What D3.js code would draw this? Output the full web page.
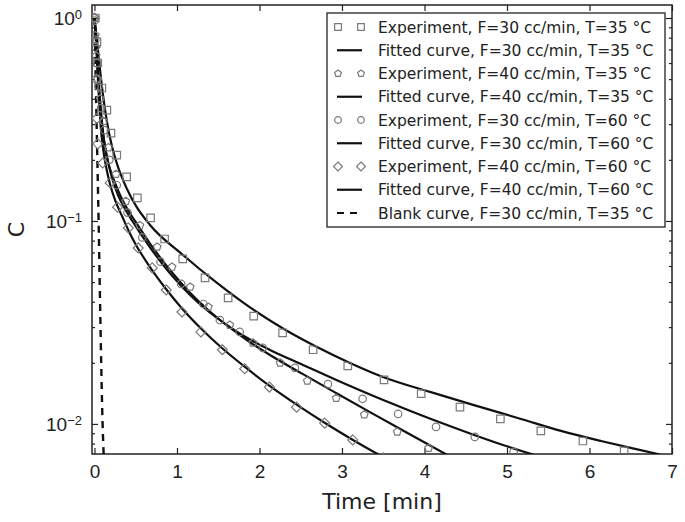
<!DOCTYPE html>
<html>
  <head>
    <title>C vs time, fitted curves</title>
  </head>
  <body style="margin:0; background:#fff;">
<meta charset="utf-8">

<!-- Load d3.js -->
<script src="https://d3js.org/d3.v7.min.js"></script>

<div id="my_dataviz"></div>

<script>

// ---- data: [time (min), C] ----
const sqPoints = [[0.01,1.0],[0.03,0.762],[0.04,0.60],[0.09,0.452],[0.15,0.352],[0.2,0.271],[0.27,0.211],
  [0.39,0.165],[0.52,0.130],[0.68,0.1035],[0.85,0.0815],[1.07,0.065],[1.34,0.0524],[1.62,0.0418],
  [1.93,0.034],[2.28,0.0281],[2.65,0.0232],[3.07,0.0193],[3.51,0.0165],[3.96,0.0141],[4.43,0.0121],
  [4.92,0.0106],[5.41,0.00924],[5.92,0.00824],[6.42,0.00736]];
const pentPoints = [[0.0,1.0],[0.01,0.82],[0.02,0.65],[0.04,0.5],[0.07,0.4],[0.11,0.31],[0.17,0.23],
  [0.26,0.17],[0.38,0.125],[0.55,0.095],[0.76,0.0745],[0.94,0.0593],[1.16,0.0473],[1.38,0.0377],
  [1.64,0.0307],[1.92,0.0251],[2.25,0.0200],[2.58,0.0163],[2.93,0.0134],[3.27,0.0111],[3.67,0.00914],[4.05,0.0076]];
const circPoints = [[0.0,0.97],[0.01,0.78],[0.03,0.6],[0.05,0.46],[0.08,0.36],[0.12,0.28],[0.18,0.2],
  [0.27,0.15],[0.4,0.11],[0.58,0.083],[0.8,0.063],[1.05,0.049],[1.32,0.039],[1.52,0.0325],[1.76,0.0284],
  [2.04,0.0237],[2.43,0.0189],[2.83,0.0157],[3.25,0.0133],[3.68,0.0112],[4.14,0.00967],[4.61,0.00863],[5.08,0.00728]];
const diaPoints = [[0,1.0],[0.01,0.72],[0.02,0.5],[0.03,0.32],[0.04,0.24],[0.1,0.193],[0.19,0.154],
  [0.28,0.117],[0.41,0.0924],[0.53,0.0736],[0.70,0.0587],[0.87,0.0457],[1.06,0.0356],[1.29,0.0284],
  [1.55,0.0232],[1.82,0.0187],[2.12,0.0152],[2.45,0.0121],[2.79,0.0101],[3.13,0.00834],[3.5,0.0068]];

const fitSq = [[0,1.0],[0.03,0.779],[0.061,0.587],[0.103,0.4175],[0.152,0.307],[0.2,0.245],[0.273,0.191],
  [0.394,0.1438],[0.503,0.1186],[0.673,0.0956],[1.073,0.068],[1.485,0.0495],[1.885,0.0375],[2.285,0.02954],
  [2.697,0.02394],[3.097,0.01998],[3.497,0.01704],[4.067,0.01438],[4.673,0.01213],[5.17,0.01058],
  [5.655,0.00924],[6.139,0.00824],[6.552,0.00753],[6.848,0.00708]];
const fitPent = [[0,1.0],[0.03,0.68],[0.055,0.4624],[0.079,0.344],[0.103,0.2744],[0.127,0.2314],[0.164,0.1953],
  [0.2,0.1743],[0.249,0.1539],[0.321,0.1313],[0.406,0.1133],[0.491,0.1],[0.673,0.0774],[0.915,0.0573],
  [1.158,0.0443],[1.364,0.03685],[1.642,0.02978],[1.885,0.02526],[2.127,0.02187],[2.527,0.01759],
  [2.939,0.01412],[3.339,0.01143],[3.739,0.00928],[4.249,0.00713],[4.43,0.0065]];
const fitCirc = [[0,1.0],[0.024,0.7362],[0.042,0.5238],[0.067,0.3814],[0.091,0.2971],[0.115,0.2506],
  [0.139,0.2187],[0.176,0.1866],[0.224,0.1574],[0.285,0.1342],[0.37,0.1146],[0.455,0.1005],[0.673,0.0741],
  [0.915,0.0552],[1.158,0.04319],[1.364,0.03632],[1.642,0.03001],[1.885,0.02604],[2.127,0.02315],
  [2.527,0.01953],[2.939,0.01642],[3.339,0.01397],[3.739,0.01199],[4.152,0.01031],[4.552,0.00898],
  [4.915,0.00797],[5.327,0.00704]];
const fitDia = [[0,1.0],[0.024,0.6957],[0.042,0.4951],[0.061,0.3602],[0.079,0.2807],[0.103,0.2289],
  [0.139,0.1866],[0.188,0.1522],[0.249,0.1269],[0.339,0.1046],[0.418,0.0888],[0.503,0.0762],[0.673,0.0593],
  [0.867,0.04624],[1.061,0.03707],[1.291,0.02954],[1.545,0.02367],[1.824,0.01909],[2.115,0.01548],
  [2.455,0.01241],[2.794,0.01011],[3.133,0.00834],[3.461,0.007]];
const blank = [[0,1.0],[0.03,0.25],[0.05,0.1],[0.067,0.041],[0.097,0.0105],[0.115,0.0065]];

const xTicks = [0, 1, 2, 3, 4, 5, 6, 7];
const yTicks = [0.01, 0.1, 1];
const yExp = ["-2", "-1", "0"];
const legendLabels = [
  "Experiment, F=30 cc/min, T=35 °C",
  "Fitted curve, F=30 cc/min, T=35 °C",
  "Experiment, F=40 cc/min, T=35 °C",
  "Fitted curve, F=40 cc/min, T=35 °C",
  "Experiment, F=30 cc/min, T=60 °C",
  "Fitted curve, F=30 cc/min, T=60 °C",
  "Experiment, F=40 cc/min, T=60 °C",
  "Fitted curve, F=40 cc/min, T=60 °C",
  "Blank curve, F=30 cc/min, T=35 °C"
];

// custom marker shapes (size = area, like d3's own symbols)
const symPentagon = {
  draw(context, size) {
    const r = Math.sqrt(size / 2.378);
    for (let i = 0; i < 5; i++) {
      const a = -Math.PI / 2 + i * 2 * Math.PI / 5;
      if (i === 0) context.moveTo(r * Math.cos(a), r * Math.sin(a));
      else context.lineTo(r * Math.cos(a), r * Math.sin(a));
    }
    context.closePath();
  }
};
const symDiamond = {
  draw(context, size) {
    const h = Math.sqrt(size / 2);
    context.moveTo(0, -h); context.lineTo(h, 0); context.lineTo(0, h); context.lineTo(-h, 0);
    context.closePath();
  }
};

const W = 685, H = 522;
const margin = {top: 5, right: 13, bottom: 68, left: 92};
const width = W - margin.left - margin.right,
  height = H - margin.top - margin.bottom;

const svg = d3.select("#my_dataviz")
.append("svg")
  .attr("width", W)
  .attr("height", H)
  .style("font-family", "'DejaVu Sans', sans-serif")
.append("g")
  .attr("transform", `translate(${margin.left}, ${margin.top})`);

// scales
const x = d3.scaleLinear().domain([-0.03, 7]).range([0, width]);
const y = d3.scaleLog().domain([0.00711, 1.159]).range([height, 0]);

svg.append("clipPath").attr("id", "clip")
  .append("rect").attr("width", width).attr("height", height);

// minor log ticks
const minor = [];
[0.001, 0.01, 0.1].forEach(function(d) {
  for (let k = 2; k <= 9; k++) {
    const v = d * k;
    if (v >= y.domain()[0] && v <= y.domain()[1]) minor.push(v);
  }
});

// axes (ticks pointing inward)
svg.append("g")
  .attr("transform", `translate(0, ${height})`)
  .style("font-size", "19px")
  .call(d3.axisBottom(x).tickValues(xTicks).tickSize(-6).tickPadding(11).tickFormat(d3.format("d")));
svg.append("g")
  .call(d3.axisTop(x).tickValues(xTicks).tickSize(-6).tickFormat(""));

const gy = svg.append("g")
  .style("font-size", "19px")
  .call(d3.axisLeft(y).tickValues(yTicks).tickSize(-6).tickPadding(10).tickFormat(""));
svg.append("g").call(d3.axisLeft(y).tickValues(minor).tickSize(-3).tickFormat(""));
svg.append("g").attr("transform", `translate(${width}, 0)`)
  .call(d3.axisRight(y).tickValues(yTicks).tickSize(-6).tickFormat(""));
svg.append("g").attr("transform", `translate(${width}, 0)`)
  .call(d3.axisRight(y).tickValues(minor).tickSize(-3).tickFormat(""));

svg.selectAll(".domain").remove();
svg.selectAll(".tick line").attr("stroke", "#222").attr("stroke-width", 1.2);
svg.selectAll(".tick text").attr("fill", "#222");

// y labels as 10^k
gy.selectAll(".tick text").each(function(d, i) {
  const t = d3.select(this);
  t.append("tspan").text("10");
  t.append("tspan").attr("dy", "-0.45em").style("font-size", "13px")
    .text(yExp[i].replace("-", "\u2212"));
});

// frame
svg.append("rect")
  .attr("width", width).attr("height", height)
  .attr("fill", "none").attr("stroke", "#222").attr("stroke-width", 1.5);

// axis titles
svg.append("text")
  .attr("x", width / 2).attr("y", height + 55)
  .attr("text-anchor", "middle")
  .style("font-size", "22px").attr("fill", "#222")
  .text("Time [min]");
svg.append("text")
  .attr("transform", `translate(${16 - margin.left}, ${height / 2}) rotate(-90)`)
  .attr("text-anchor", "middle").attr("dy", "0.36em")
  .style("font-size", "22px").attr("fill", "#222")
  .text("C");

// lines
const line = d3.line()
  .x(function(d) { return x(d[0]) })
  .y(function(d) { return y(d[1]) })
  .curve(d3.curveMonotoneX);

const plot = svg.append("g").attr("clip-path", "url(#clip)");

[fitSq, fitPent, fitCirc, fitDia].forEach(function(s) {
  plot.append("path").datum(s)
    .attr("d", line)
    .attr("fill", "none").attr("stroke", "#111").attr("stroke-width", 2.2);
});
plot.append("path").datum(blank)
  .attr("d", line)
  .attr("fill", "none").attr("stroke", "#111").attr("stroke-width", 2.4)
  .attr("stroke-dasharray", "7,6");

// markers
const series = [
  {data: sqPoints, type: d3.symbolSquare, size: 56},
  {data: pentPoints, type: symPentagon, size: 38},
  {data: circPoints, type: d3.symbolCircle, size: 44},
  {data: diaPoints, type: symDiamond, size: 50}
];
series.forEach(function(s) {
  plot.selectAll(null)
    .data(s.data)
    .join("path")
      .attr("transform", function(d) { return `translate(${x(d[0])}, ${y(d[1])})` })
      .attr("d", d3.symbol().type(s.type).size(s.size))
      .attr("fill", "none").attr("stroke", "#7a7a7a").attr("stroke-width", 1.2);
});

// legend
const lg = svg.append("g").attr("transform", `translate(${327 - margin.left}, ${13 - margin.top})`);
lg.append("rect")
  .attr("width", 338).attr("height", 214)
  .attr("fill", "#fff").attr("stroke", "#222").attr("stroke-width", 1.3);
const rowH = 23.25;
legendLabels.forEach(function(lab, i) {
  const cy = 14 + i * rowH;
  const row = lg.append("g").attr("transform", `translate(0, ${cy})`);
  if (i % 2 === 0 && i < 8) {
    const s = series[i / 2];
    [11, 34].forEach(function(mx) {
      row.append("path")
        .attr("transform", `translate(${mx}, 0)`)
        .attr("d", d3.symbol().type(s.type).size(s.size * 0.8))
        .attr("fill", "none").attr("stroke", "#7a7a7a").attr("stroke-width", 1.2);
    });
  } else {
    row.append("line")
      .attr("x1", 10).attr("x2", 35)
      .attr("stroke", "#111").attr("stroke-width", 2.2)
      .attr("stroke-dasharray", i === 8 ? "7,6" : null);
  }
  row.append("text")
    .attr("x", 51).attr("dy", "0.36em")
    .style("font-size", "15.5px").attr("fill", "#222")
    .text(lab);
});

</script>

</body>
</html>
